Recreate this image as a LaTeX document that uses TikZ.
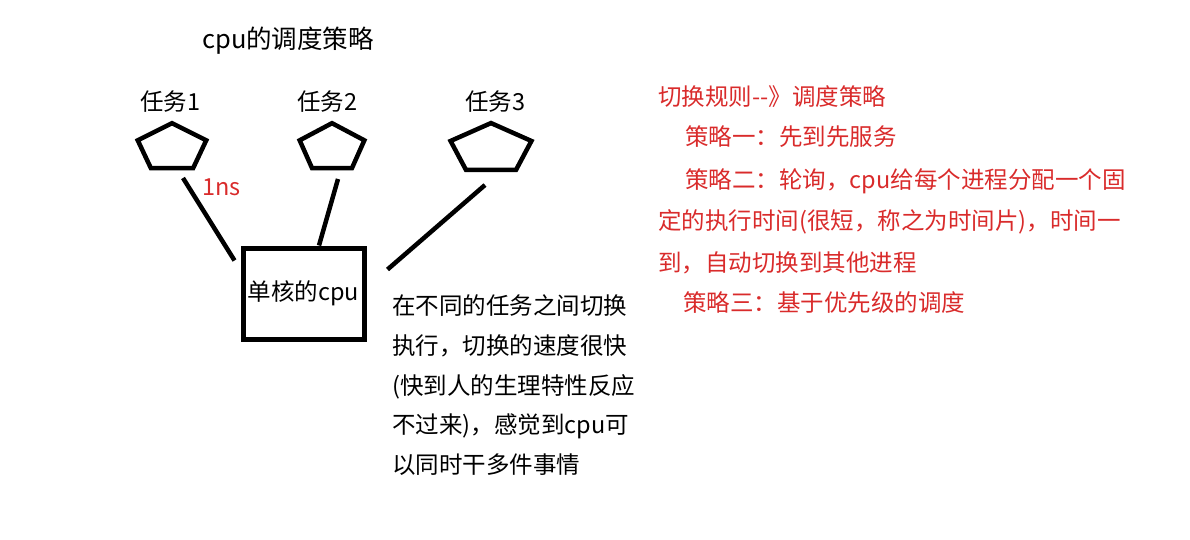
\documentclass[tikz,border=0pt]{standalone}
\usepackage{fontspec}
\setmainfont{Noto Sans CJK SC}
\usepackage{xcolor}
\usepackage{tikz}
\usetikzlibrary{shapes.geometric,calc}
\definecolor{ruleRed}{HTML}{D92B2B}

\begin{document}
\begin{tikzpicture}[x=1pt, y=-1pt,
  lbl/.style={anchor=west, inner sep=0, font=\fontsize{23.5}{28}\selectfont, text height=22pt, text depth=4pt},
  redlbl/.style={lbl, text=ruleRed},
  taskshape/.style={draw, regular polygon, regular polygon sides=5, inner sep=0, line width=4.5pt},
  taskline/.style={line width=4.5pt}]
  \useasboundingbox (0,0) rectangle (1190,540);

  \node[lbl, font=\fontsize{25.5}{28}\selectfont] (title) at (202,40) {cpu的调度策略};

  % tasks
  \node[taskshape, minimum size=72pt, yscale=0.69] (t1) at (172,148) {};
  \node[taskshape, minimum size=68pt, yscale=0.73] (t2) at (332,148) {};
  \node[taskshape, minimum size=85pt, yscale=0.61] (t3) at (491,149) {};
  \node[lbl] (l1) at (140,102) {任务1};
  \node[lbl] (l2) at (297,102) {任务2};
  \node[lbl] (l3) at (465,102) {任务3};

  % cpu
  \node[draw, line width=5pt, minimum width=121pt, minimum height=91pt, inner sep=0,
        font=\fontsize{23.5}{28}\selectfont] (cpu) at (303.5,293.5) {单核的cpu};

  \draw[taskline] ([shift={(11,30)}]t1.center) -- ([shift={(-6,15)}]cpu.north west);
  \draw[taskline] ([shift={(6,31)}]t2.center) -- ([xshift=15.5pt]cpu.north);
  \draw[taskline] ([shift={(-6,36)}]t3.center) -- ([shift={(21,24)}]cpu.north east);
  \node[redlbl] (ns) at (202,186) {1ns};

  % explanation
  \node[lbl] (d1) at (392,305) {在不同的任务之间切换};
  \node[lbl] (d2) at (392,345) {执行，切换的速度很快};
  \node[lbl] (d3) at (392,385) {(快到人的生理特性反应};
  \node[lbl] (d4) at (392,424) {不过来)，感觉到cpu可};
  \node[lbl] (d5) at (392,464) {以同时干多件事情};

  % rules
  \node[redlbl] (r1) at (658,97) {切换规则-\kern0pt-》调度策略};
  \node[redlbl] (r2) at (685,137) {策略一：先到先服务};
  \node[redlbl] (r3) at (685,180) {策略二：轮询，cpu给每个进程分配一个固};
  \node[redlbl] (r4) at (658,220) {定的执行时间(很短，称之为时间片)，时间一};
  \node[redlbl] (r5) at (658,262) {到，自动切换到其他进程};
  \node[redlbl] (r6) at (683,302) {策略三：基于优先级的调度};
\end{tikzpicture}
\end{document}
